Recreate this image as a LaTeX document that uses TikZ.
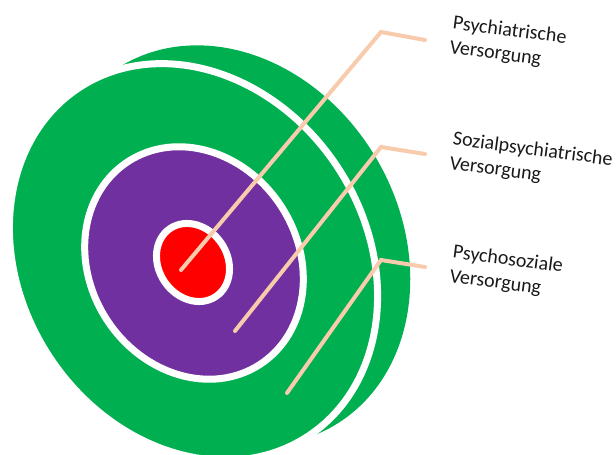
\documentclass[tikz,border=0pt]{standalone}
\usepackage{fontspec}
\setmainfont{Carlito}
\definecolor{ogreen}{HTML}{00B050}
\definecolor{opurple}{HTML}{7030A0}
\definecolor{ored}{HTML}{FF0000}
\definecolor{peach}{HTML}{F8CBAD}
\begin{document}
\begin{tikzpicture}[x=1pt,y=1pt,
  disc/.style={fill=#1, draw=white, line width=7pt},
  leader/.style={draw=peach, line width=4pt, line cap=round, line join=miter},
  lab/.style={font=\fontsize{20}{24.5}\selectfont, align=left, inner sep=0pt,
              anchor=base west, rotate=-7.5, text=black!90}]
\useasboundingbox (0,0) rectangle (616,455);
% back rim
\fill[ogreen, rotate around={30.5:(228,209.5)}] (228,209.5) ellipse [x radius=172, y radius=209];
% front disc
\filldraw[disc=ogreen, rotate around={33.3:(193.5,193)}] (193.5,193) ellipse [x radius=172.5, y radius=208.5];
% middle ring
\filldraw[disc=opurple, rotate around={33:(194,192)}] (194,192) ellipse [x radius=104, y radius=121];
% centre
\filldraw[disc=ored, rotate around={34:(193,192.5)}] (193,192.5) ellipse [x radius=34.3, y radius=41];
% leader points
\coordinate (s1) at (181,185);
\coordinate (k1) at (381,423);
\coordinate (e1) at (425,415);
\coordinate (s2) at (235,124);
\coordinate (k2) at (381,308);
\coordinate (e2) at (425,301);
\coordinate (s3) at (287,62);
\coordinate (k3) at (381,195);
\coordinate (e3) at (425,188);
\draw[leader] (s1) -- (k1) -- (e1);
\draw[leader] (s2) -- (k2) -- (e2);
\draw[leader] (s3) -- (k3) -- (e3);
% labels (anchored at the baseline of their last line)
\node[lab] (t1) at (449,402) {Psychiatrische\\Versorgung};
\node[lab] (t2) at (449,286) {Sozialpsychiatrische\\Versorgung};
\node[lab] (t3) at (449,173) {Psychosoziale\\Versorgung};
\end{tikzpicture}
\end{document}
